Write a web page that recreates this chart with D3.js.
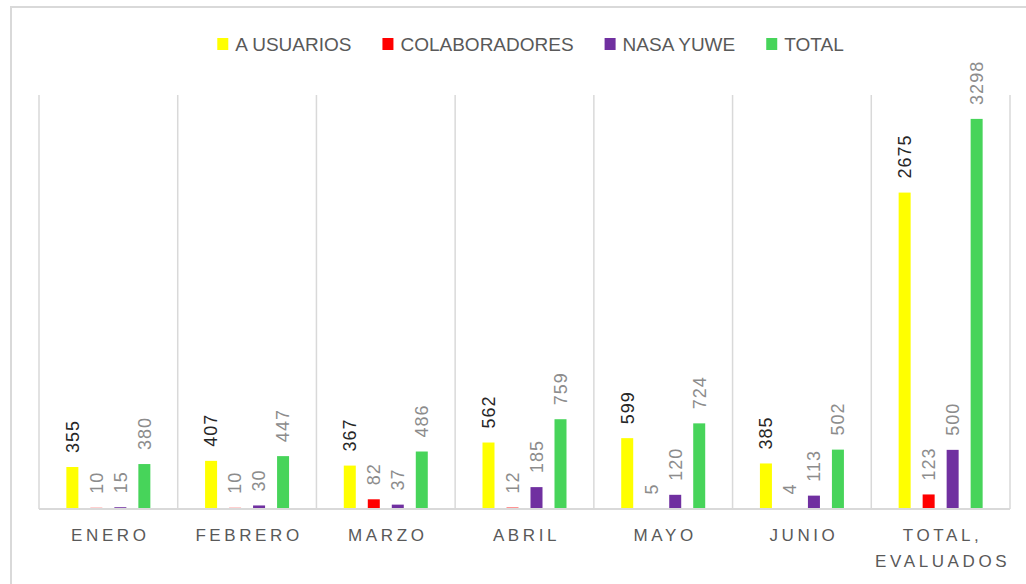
<!DOCTYPE html>
<html>
<head>
<meta charset="utf-8">
<script src="https://cdn.jsdelivr.net/npm/d3@7"></script>
<style>
	body { margin: 0; background: #fff; }
	text { font-family: "Liberation Sans", Arial, sans-serif; }
</style>
</head>
<body>
<script>
// data
var categories = ['ENERO', 'FEBRERO', 'MARZO', 'ABRIL', 'MAYO', 'JUNIO', 'TOTAL, EVALUADOS'];
var series = ['A USUARIOS', 'COLABORADORES', 'NASA YUWE', 'TOTAL'];
var colors = ['#ffff00', '#ff0000', '#7030a0', '#47d45a'];
var usuarios = [355, 407, 367, 562, 599, 385, 2675];
var colaboradores = [10, 10, 82, 12, 5, 4, 123];
var nasaYuwe = [15, 30, 37, 185, 120, 113, 500];
var total = [380, 447, 486, 759, 724, 502, 3298];
var yMax = 3500;

var values = [usuarios, colaboradores, nasaYuwe, total];

var width = 1026, height = 584;
var plot = { left: 39, right: 1010, top: 95, bottom: 509 };

var svg = d3.select('body')
	.append('svg')
	.attr('width', width)
	.attr('height', height);

// chart frame
svg.append('rect')
	.attr('x', 11)
	.attr('y', 7)
	.attr('width', 1040)
	.attr('height', 600)
	.attr('fill', '#fff')
	.attr('stroke', '#d9d9d9')
	.attr('stroke-width', 2);

// scales
var x0 = d3.scaleBand()
	.domain(categories)
	.range([plot.left, plot.right]);

var x1 = d3.scaleBand()
	.domain(series)
	.range([0, x0.bandwidth()])
	.paddingInner(0.5)
	.paddingOuter(1.14);

var y = d3.scaleLinear()
	.domain([0, yMax])
	.range([plot.bottom, plot.top]);

// vertical separators
var bounds = categories.map(function (c) { return x0(c); }).concat([plot.right]);
svg.append('g')
	.selectAll('line')
	.data(bounds)
	.join('line')
	.attr('x1', function (d) { return d; })
	.attr('x2', function (d) { return d; })
	.attr('y1', y(yMax))
	.attr('y2', y(0))
	.attr('stroke', '#d9d9d9')
	.attr('stroke-width', 1.5);

// bars
var groups = svg.append('g')
	.selectAll('g')
	.data(categories)
	.join('g')
	.attr('transform', function (c) { return 'translate(' + x0(c) + ',0)'; });

var cells = groups.selectAll('g')
	.data(function (c, i) {
		return series.map(function (s, j) {
			return { series: s, idx: j, value: values[j][i] };
		});
	})
	.join('g');

cells.append('rect')
	.attr('x', function (d) { return x1(d.series); })
	.attr('width', x1.bandwidth())
	.attr('y', function (d) { return y(d.value); })
	.attr('height', function (d) { return y(0) - y(d.value); })
	.attr('fill', function (d) { return colors[d.idx]; });

// value labels (rotated)
cells.append('text')
	.attr('transform', function (d) {
		var cx = x1(d.series) + x1.bandwidth() / 2;
		return 'translate(' + cx + ',' + (y(d.value) - 14) + ') rotate(-90)';
	})
	.attr('dy', '0.35em')
	.attr('text-anchor', 'start')
	.style('font-size', '18px')
	.style('letter-spacing', '1px')
	.attr('fill', function (d) { return d.idx === 0 ? '#262626' : '#8c8c8c'; })
	.text(function (d) { return d.value; });

// baseline
svg.append('line')
	.attr('x1', plot.left)
	.attr('x2', plot.right)
	.attr('y1', y(0))
	.attr('y2', y(0))
	.attr('stroke', '#d9d9d9')
	.attr('stroke-width', 2);

// category labels
var catLabels = svg.append('g')
	.selectAll('text')
	.data(categories)
	.join('text')
	.attr('x', function (c) { return x0(c) + x0.bandwidth() / 2; })
	.attr('y', 541)
	.attr('text-anchor', 'middle')
	.style('font-size', '17px')
	.style('letter-spacing', '3.6px')
	.attr('fill', '#595959');

catLabels.each(function (c) {
	var parts = c.split(' ');
	var t = d3.select(this);
	var cx = x0(c) + x0.bandwidth() / 2 + 2;
	parts.forEach(function (p, k) {
		t.append('tspan')
			.attr('x', cx)
			.attr('dy', k === 0 ? 0 : 26)
			.text(p);
	});
});

// legend
var legend = svg.append('g');
var items = legend.selectAll('g')
	.data(series)
	.join('g');

items.append('rect')
	.attr('width', 11)
	.attr('height', 12)
	.attr('y', 38)
	.attr('fill', function (d, i) { return colors[i]; });

items.append('text')
	.attr('x', 18)
	.attr('y', 51)
	.style('font-size', '19px')
	.attr('fill', '#595959')
	.text(function (d) { return d; });

var pos = 0;
items.each(function () {
	var g = d3.select(this);
	g.attr('transform', 'translate(' + pos + ',0)');
	pos += 18 + g.select('text').node().getComputedTextLength() + 31;
});
pos -= 31;
legend.attr('transform', 'translate(' + (530.5 - pos / 2) + ',0)');
</script>
</body>
</html>
